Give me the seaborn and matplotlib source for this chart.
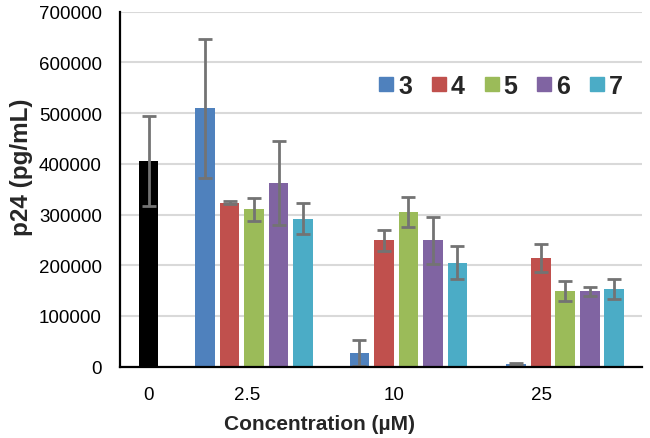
import matplotlib
matplotlib.use("Agg")
import matplotlib.pyplot as plt
from matplotlib.lines import Line2D
import seaborn as sns
import pandas as pd
import numpy as np

# ---- data ----
categories = ["0", "2.5", "10", "25"]
control_label = "control"
control_value = [405000]
control_err = [89000]
series_names = ["3", "4", "5", "6", "7"]
vals_3 = [510000, 27000, 5000]
err_3 = [137000, 25000, 2000]
vals_4 = [323000, 249000, 214000]
err_4 = [3000, 21000, 27000]
vals_5 = [310000, 305000, 149000]
err_5 = [22000, 29000, 20000]
vals_6 = [362000, 249000, 149000]
err_6 = [83000, 46000, 9000]
vals_7 = [292000, 205000, 153000]
err_7 = [31000, 33000, 20000]

colors = {"control": "#000000", "3": "#4F81BD", "4": "#C0504D",
          "5": "#9BBB59", "6": "#8064A2", "7": "#4BACC6"}

# ---- layout (slot units) ----
group_centres = [4.3, 10.6, 17.0]
slot_offsets = [-2, -1, 0, 1, 2]
tick_positions = [0.0, 4.0, 10.0, 16.05]

rows = [{"pos": 0.0, "value": control_value[0], "err": control_err[0], "series": control_label}]
all_vals = [vals_3, vals_4, vals_5, vals_6, vals_7]
all_errs = [err_3, err_4, err_5, err_6, err_7]
for s, name in enumerate(series_names):
    for g, c in enumerate(group_centres):
        rows.append({"pos": round(c + slot_offsets[s], 3), "value": all_vals[s][g],
                     "err": all_errs[s][g], "series": name})
df = pd.DataFrame(rows)

sns.set_theme(style="white")
plt.rcParams["font.family"] = ["Liberation Sans", "DejaVu Sans"]

fig = plt.figure(figsize=(6.5, 4.39), dpi=100)
ax = fig.add_axes([120 / 650, 1 - 367.7 / 439, (641.7 - 120) / 650, (367.7 - 12.7) / 439])

sns.barplot(data=df, x="pos", y="value", hue="series", palette=colors,
            native_scale=True, dodge=False, errorbar=None, width=0.8,
            legend=False, ax=ax, zorder=2, saturation=1, linewidth=0)

ax.errorbar(df["pos"], df["value"], yerr=df["err"], fmt="none",
            ecolor="#737373", elinewidth=2, capsize=5, capthick=2, zorder=4)

ax.set_ylim(0, 700000)
ax.set_xlim(-1.17, 20.12)
ax.set_yticks(np.arange(0, 700001, 100000))
ax.set_yticklabels([str(v) for v in range(0, 700001, 100000)])
ax.set_xticks(tick_positions)
ax.set_xticklabels(categories)
ax.tick_params(axis="both", length=0, labelsize=13.5, colors="#000000")
ax.tick_params(axis="y", pad=13)
ax.tick_params(axis="x", pad=14)

ax.yaxis.grid(True, color="#D9D9D9", linewidth=1.5, zorder=0)
ax.set_axisbelow(True)
for side in ["top", "right"]:
    ax.spines[side].set_visible(False)
for side in ["left", "bottom"]:
    ax.spines[side].set_color("#000000")
    ax.spines[side].set_linewidth(1.6)
    ax.spines[side].set_zorder(5)

ax.set_xlabel("Concentration (\u00b5M)", fontsize=15, fontweight="bold", labelpad=8,
              x=(320 - 120) / 521.7)
ax.set_ylabel("p24 (pg/mL)", fontsize=17.5, fontweight="bold", labelpad=4,
              y=(367.7 - 167.5) / 355)

handles = [Line2D([0], [0], marker="s", linestyle="none", markersize=9.5,
                  markerfacecolor=colors[n], markeredgecolor=colors[n]) for n in series_names]
leg = ax.legend(handles, series_names, loc="center", bbox_to_anchor=(501 / 650, 1 - 86.7 / 439),
                bbox_transform=fig.transFigure, ncol=5, frameon=False,
                prop={"size": 18, "weight": "bold"}, handlelength=0.55,
                handletextpad=0.2, columnspacing=0.8, borderpad=0, borderaxespad=0)

fig.savefig("out.png", dpi=100)
